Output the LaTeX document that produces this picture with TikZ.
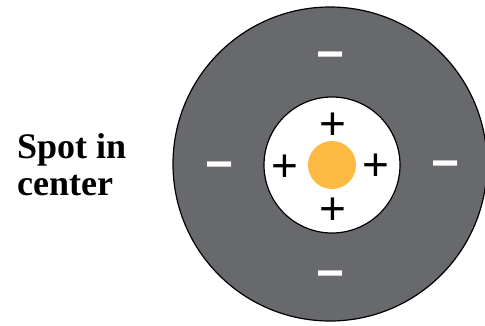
\documentclass[tikz,border=0pt]{standalone}
\usepackage{fontspec}
\setmainfont{Liberation Serif}
\newfontfamily\symfont{Liberation Sans}
\definecolor{ringgray}{RGB}{104,105,109}
\definecolor{spotorange}{RGB}{253,186,66}
\begin{document}
\begin{tikzpicture}[x=1pt,y=-1pt,
  disc/.style={circle,draw=black,line width=1.2pt,inner sep=0pt},
  plussign/.style={anchor=base,inner sep=0pt,font=\symfont\fontsize{46}{46}\selectfont,text=black},
  minussign/.style={anchor=base,inner sep=0pt,font=\symfont\bfseries\fontsize{48}{48}\selectfont,text=white},
  label/.style={align=left,inner sep=0pt,font=\bfseries\fontsize{36}{37}\selectfont}]
\useasboundingbox (0,0) rectangle (485,325);
\node[disc,fill=ringgray,minimum size=314pt] (outer) at (330,164) {};
\node[disc,fill=white,minimum size=136pt] (inner) at (332,165) {};
\node[circle,fill=spotorange,draw=none,minimum size=48pt,inner sep=0pt] (spot) at (332,165) {};
% plus signs (baseline placed so glyph centre falls on target)
\node[plussign] (ptop) at (333,139) {+};
\node[plussign] (pleft) at (285,181) {+};
\node[plussign] (pright) at (376,180) {+};
\node[plussign] (pbottom) at (333,224) {+};
% minus signs
\node[minussign] (mtop) at (331,70) {−};
\node[minussign] (mleft) at (220,180) {−};
\node[minussign] (mright) at (446,179) {−};
\node[minussign] (mbottom) at (331,289) {−};
\node[label,anchor=base west] (lbl) at (17,195) {Spot in\\center};
\end{tikzpicture}
\end{document}
